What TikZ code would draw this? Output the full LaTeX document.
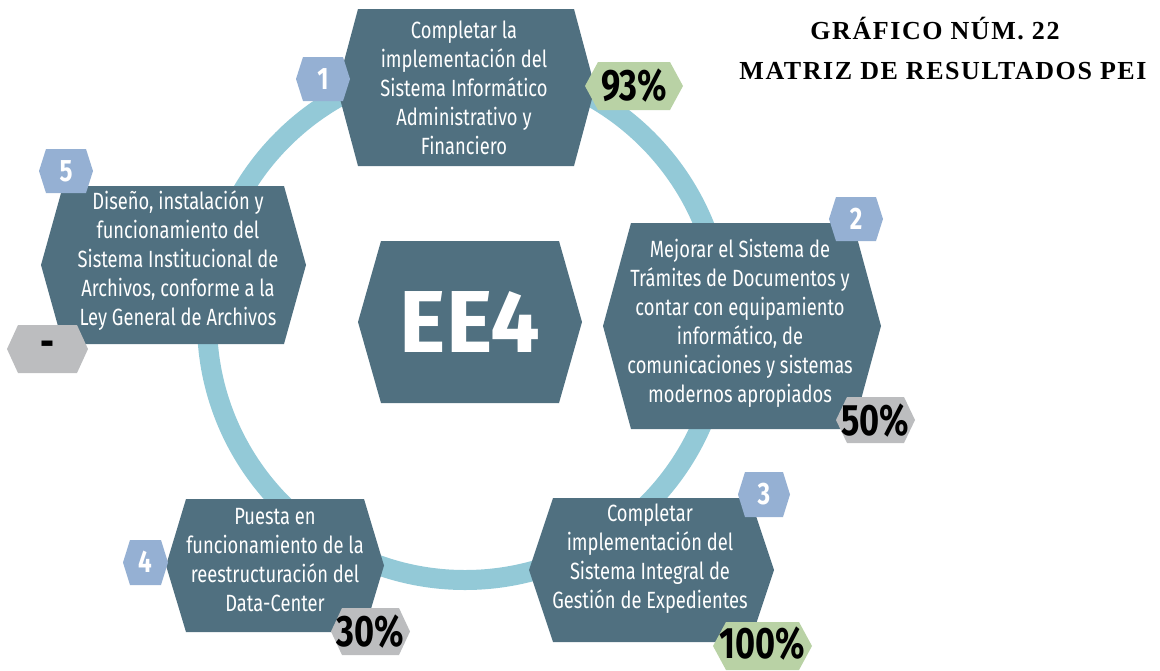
\documentclass[tikz,border=0pt]{standalone}
\usepackage{fontspec}
\setmainfont{Fira Sans}[FakeStretch=0.78]
\newfontfamily\titlefont{Liberation Serif}[LetterSpace=6]
\newfontfamily\eefont{Fira Sans}
\definecolor{slate}{RGB}{80,112,128}
\definecolor{ringblue}{RGB}{147,201,215}
\definecolor{badgeblue}{RGB}{149,176,211}
\definecolor{okgreen}{RGB}{185,210,165}
\definecolor{midgray}{RGB}{188,189,191}
\tikzset{
  ringline/.style={draw=ringblue,line width=20pt},
  txt/.style={text=white,align=center,font=\fontsize{23.5}{29}\selectfont},
  num/.style={text=white,font=\bfseries\fontsize{31}{31}\selectfont},
  perc/.style={text=black,font=\bfseries\fontsize{44}{44}\selectfont},
}
\newcommand{\hexfill}[6]{\fill[#1] ({#2+#6},#3)--({#4-#6},#3)--(#4,{(#3+#5)/2})--({#4-#6},#5)--({#2+#6},#5)--(#2,{(#3+#5)/2})--cycle;}
\begin{document}
\begin{tikzpicture}[x=1pt,y=-1pt]
\useasboundingbox (0,0) rectangle (1160,670);
\draw[ringline] (465,322) circle (258);

\hexfill{slate}{337}{9}{595}{166}{21}
\hexfill{slate}{603}{223}{881}{429}{28}
\hexfill{slate}{529}{498}{774}{642}{24}
\hexfill{slate}{166}{499}{384}{632}{20}
\hexfill{slate}{41}{186}{306}{344}{22}
\hexfill{slate}{358}{241}{582}{403}{23}

\hexfill{badgeblue}{296}{57}{350}{101}{7}
\hexfill{badgeblue}{829}{197}{883}{241}{7}
\hexfill{badgeblue}{738}{472}{790}{517}{7}
\hexfill{badgeblue}{123}{540}{168}{585}{7}
\hexfill{badgeblue}{39}{149}{93}{193}{7}

\hexfill{okgreen}{585}{62}{683}{110}{13}
\hexfill{midgray}{836}{397}{915}{443}{11}
\hexfill{okgreen}{713}{622}{812}{670}{13}
\hexfill{midgray}{331}{608}{410}{655}{11}
\hexfill{midgray}{7}{325}{88}{373}{11}

\node[text=white,font=\eefont\bfseries\fontsize{88}{88}\selectfont] (ee) at (470,322) {EE4};

\node[txt] (h1) at (464,88) {Completar la\\implementación del\\Sistema Informático\\Administrativo y\\Financiero};
\node[txt] (h2) at (740,323) {Mejorar el Sistema de\\Trámites de Documentos y\\contar con equipamiento\\informático, de\\comunicaciones y sistemas\\modernos apropiados};
\node[txt] (h3) at (650,559) {Completar\\implementación del\\Sistema Integral de\\Gestión de Expedientes};
\node[txt] (h4) at (275,560) {Puesta en\\funcionamiento de la\\reestructuración del\\Data-Center};
\node[txt] (h5) at (178,261) {Diseño, instalación y\\funcionamiento del\\Sistema Institucional de\\Archivos, conforme a la\\Ley General de Archivos};

\node[num] (n1) at (323,79) {1};
\node[num] (n2) at (856,219) {2};
\node[num] (n3) at (764,494) {3};
\node[num] (n4) at (145,562) {4};
\node[num] (n5) at (66,171) {5};

\node[perc] (p1) at (634,86) {93\%};
\node[perc] (p2) at (875,421) {50\%};
\node[perc] (p3) at (762,644) {100\%};
\node[perc] (p4) at (370,632) {30\%};
\node[perc] (p5) at (47,349) {-};

\node[font=\titlefont\bfseries\fontsize{26}{26}\selectfont] (tit1) at (935,29) {GRÁFICO NÚM. 22};
\node[font=\titlefont\bfseries\fontsize{26}{26}\selectfont] (tit2) at (943,71) {MATRIZ DE RESULTADOS PEI};
\end{tikzpicture}
\end{document}
